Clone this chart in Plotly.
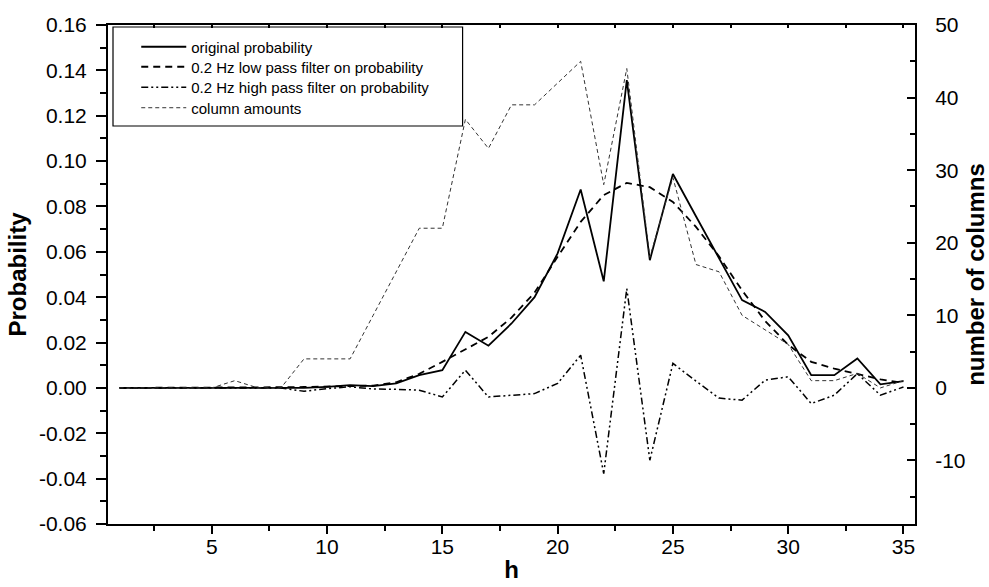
import plotly.graph_objects as go

# ---------------- data ----------------
h = list(range(1, 36))

original = [0.0, 0.0, 0.0, 0.0, 0.0, 0.0, 0.0, 0.0, 0.0, 0.0005,
            0.0012, 0.0008, 0.002, 0.0056, 0.0078, 0.0247, 0.0186, 0.0284, 0.040, 0.0593,
            0.0875, 0.047, 0.1357, 0.0563, 0.0943, 0.0757, 0.0572, 0.0387, 0.0335, 0.0232,
            0.0056, 0.0056, 0.013, 0.0016, 0.003]

lowpass = [0.0, 0.0, 0.0, 0.0, 0.0, 0.0002, 0.0003, 0.0003, 0.0004, 0.0006,
           0.0008, 0.001, 0.0025, 0.0062, 0.0115, 0.017, 0.0225, 0.031, 0.042, 0.0578,
           0.0732, 0.085, 0.0904, 0.0885, 0.082, 0.071, 0.058, 0.043, 0.0295, 0.019,
           0.0115, 0.0085, 0.006, 0.0038, 0.0022]

highpass = [0.0, 0.0, 0.0, 0.0, 0.0, 0.0, 0.0, 0.0, -0.0015, -0.0003,
            0.0005, -0.0005, -0.0006, -0.001, -0.004, 0.0078, -0.004, -0.0033, -0.0025, 0.002,
            0.0144, -0.0378, 0.0438, -0.0319, 0.0108, 0.003, -0.0045, -0.0054, 0.0034, 0.0049,
            -0.0069, -0.0032, 0.0063, -0.0032, 0.0004]

columns = [0, 0, 0, 0, 0, 1, 0, 0, 4, 4,
           4, 10, 16, 22, 22, 37, 33, 39, 39, 42,
           45, 28, 44, 18, 29, 17, 16, 10, 8, 6,
           1, 1, 2, 0, 1]

x_tickvals = [5, 10, 15, 20, 25, 30, 35]
x_ticktext = ["5", "10", "15", "20", "25", "30", "35"]
y_tickvals = [-0.06, -0.04, -0.02, 0.0, 0.02, 0.04, 0.06, 0.08, 0.10, 0.12, 0.14, 0.16]
y_ticktext = ["-0.06", "-0.04", "-0.02", "0.00", "0.02", "0.04", "0.06", "0.08",
              "0.10", "0.12", "0.14", "0.16"]
y2_tickvals = [-10, 0, 10, 20, 30, 40, 50]
y2_ticktext = ["-10", "0", "10", "20", "30", "40", "50"]

FONT = "Liberation Sans, Arial, Helvetica, sans-serif"

fig = go.Figure()
fig.add_trace(go.Scatter(x=h, y=original, mode="lines", name="original probability",
                         legend="legend",
                         line=dict(color="black", width=1.8)))
fig.add_trace(go.Scatter(x=h, y=lowpass, mode="lines", name="0.2 Hz low pass filter on probability",
                         legend="legend2",
                         line=dict(color="black", width=1.8, dash="7px,5px")))
fig.add_trace(go.Scatter(x=h, y=highpass, mode="lines", name="0.2 Hz high pass filter on probability",
                         legend="legend3",
                         line=dict(color="black", width=1.5, dash="7px,3px,2px,3px,2px,3px")))
fig.add_trace(go.Scatter(x=h, y=columns, mode="lines", name="column amounts",
                         xaxis="x2", yaxis="y2", legend="legend4",
                         line=dict(color="#333333", width=1, dash="4px,3px")))

tickfont = dict(family=FONT, size=21, color="black")
titlefont = dict(family=FONT, size=24, color="black")
legfont = dict(family=FONT, size=15, color="black")


def leg(yc):
    return dict(x=0.035, y=yc, xanchor="left", yanchor="middle",
                bgcolor="rgba(0,0,0,0)", borderwidth=0, itemwidth=45, font=legfont)


fig.update_layout(
    width=989, height=587,
    margin=dict(l=108, r=74, t=25, b=63, autoexpand=False),
    paper_bgcolor="white", plot_bgcolor="white",
    font=dict(family=FONT, color="black"),
    showlegend=True,
    legend=leg(0.9559),
    legend2=leg(0.9158),
    legend3=leg(0.8747),
    legend4=leg(0.8337),
    xaxis=dict(range=[0.5, 35.5], tickmode="array", tickvals=x_tickvals, ticktext=x_ticktext,
               automargin=False,
               showgrid=False, zeroline=False, showline=True, linecolor="black", linewidth=2,
               ticks="outside", ticklen=8, tickwidth=1.5, tickcolor="black", tickfont=tickfont,
               ticklabelstandoff=-5,
               minor=dict(tickmode="linear", tick0=0, dtick=2.5, ticks="outside", ticklen=5,
                          tickwidth=1.5, tickcolor="black", showgrid=False),
               title=dict(text="<b>h</b>", font=titlefont, standoff=4)),
    xaxis2=dict(range=[0.5, 35.5], overlaying="x", side="top", anchor="y2", automargin=False,
                showgrid=False, zeroline=False, showline=True, linecolor="black", linewidth=2,
                tickmode="linear", tick0=0, dtick=2.5, ticks="inside", ticklen=3, tickwidth=1.5,
                tickcolor="black", showticklabels=False),
    yaxis=dict(range=[-0.06, 0.16], tickmode="array", tickvals=y_tickvals, ticktext=y_ticktext,
               automargin=False,
               showgrid=False, zeroline=False, showline=True, linecolor="black", linewidth=2,
               ticks="outside", ticklen=10, tickwidth=1.5, tickcolor="black", tickfont=tickfont,
               ticklabelstandoff=5,
               minor=dict(tickmode="linear", tick0=0, dtick=0.01, ticks="outside", ticklen=6,
                          tickwidth=1.5, tickcolor="black", showgrid=False),
               title=dict(text="<b>Probability</b>", font=titlefont, standoff=6)),
    yaxis2=dict(range=[-18.75, 50], overlaying="y", side="right", anchor="x2",
                automargin=False,
                tickmode="array", tickvals=y2_tickvals, ticktext=y2_ticktext,
                showgrid=False, zeroline=False, showline=True, linecolor="black", linewidth=2,
                ticks="inside", ticklen=8, tickwidth=1.5, tickcolor="black", tickfont=tickfont,
                ticklabelstandoff=14,
                minor=dict(tickmode="linear", tick0=0, dtick=5, ticks="inside", ticklen=5,
                           tickwidth=1.5, tickcolor="black", showgrid=False),
                title=dict(text="<b>number of columns</b>", font=titlefont, standoff=6)),
    shapes=[dict(type="rect", xref="paper", yref="paper",
                 x0=0.0062, x1=0.4394, y0=0.7976, y1=0.996,
                 line=dict(color="black", width=1.2), fillcolor="rgba(0,0,0,0)")],
)

fig.write_html("out.html")
